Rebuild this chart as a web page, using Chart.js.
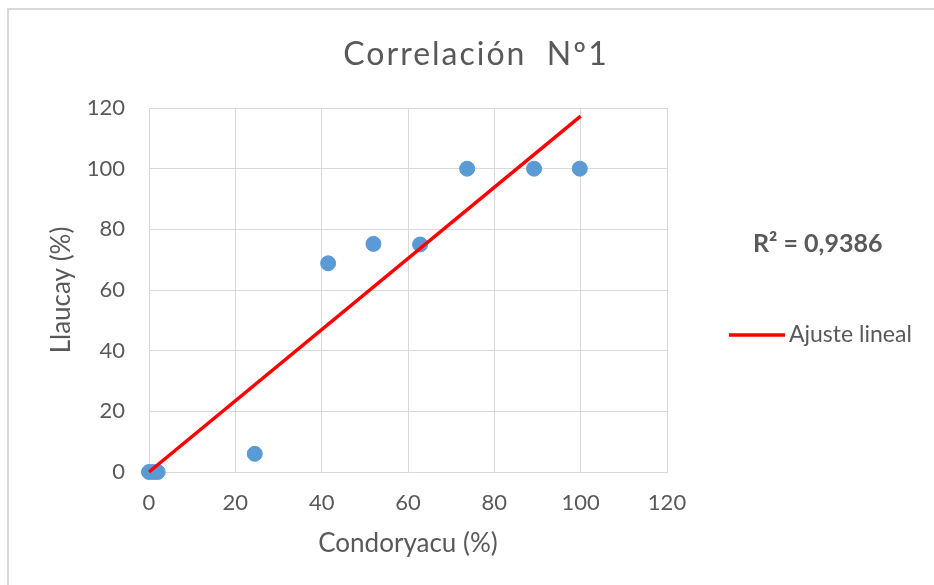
<!DOCTYPE html>
<html>
<head>
<meta charset="utf-8">
<script src="https://cdn.jsdelivr.net/npm/chart.js@4/dist/chart.umd.min.js"></script>
<style>
html,body{margin:0;padding:0;background:#fff;}
#wrap{width:934px;height:585px;position:relative;}
</style>
</head>
<body>
<div id="wrap"><canvas id="c" width="934" height="585"></canvas></div>
<script>
// Data
const condoryacu = [0, 1, 2, 24.5, 41.5, 52, 62.8, 73.7, 89.2, 99.8];
const llaucay    = [0, 0, 0, 6, 68.8, 75.2, 75, 100, 100, 100];
const trendX = [0, 100];
const trendY = [0, 117.3];
const xTicks = [0, 20, 40, 60, 80, 100, 120];
const yTicks = [0, 20, 40, 60, 80, 100, 120];
const chartTitle = 'Correlación  Nº1';
const xTitle = 'Condoryacu (%)';
const yTitle = 'Llaucay (%)';
const legendLabel = 'Ajuste lineal';
const r2Label = 'R² = 0,9386';

const FONT = 'Lato, "Open Sans", sans-serif';
const TXT = '#595959';
const GRID = '#d9d9d9';

const points = condoryacu.map((x, i) => ({x: x, y: llaucay[i]}));
const trend = trendX.map((x, i) => ({x: x, y: trendY[i]}));

const extras = {
  id: 'extras',
  beforeDraw(chart) {
    const ctx = chart.ctx;
    ctx.save();
    ctx.fillStyle = '#fff';
    ctx.fillRect(0, 0, chart.width, chart.height);
    ctx.strokeStyle = GRID;
    ctx.lineWidth = 2;
    ctx.strokeRect(8, 9, 1000, 1000);
    ctx.restore();
  },
  afterDraw(chart) {
    const ctx = chart.ctx;
    ctx.save();
    ctx.fillStyle = TXT;
    ctx.textBaseline = 'middle';
    // title
    ctx.textAlign = 'center';
    ctx.font = '32px ' + FONT;
    ctx.letterSpacing = '2px';
    ctx.fillText(chartTitle, 476, 55);
    ctx.letterSpacing = '0px';
    // R2
    ctx.textAlign = 'left';
    ctx.font = 'bold 25px ' + FONT;
    ctx.fillText(r2Label, 753, 244);
    // legend
    ctx.strokeStyle = '#ff0000';
    ctx.lineWidth = 3.5;
    ctx.beginPath();
    ctx.moveTo(729, 335);
    ctx.lineTo(785, 335);
    ctx.stroke();
    ctx.font = '23px ' + FONT;
    ctx.fillText(legendLabel, 789, 335);
    ctx.restore();
  }
};

new Chart(document.getElementById('c'), {
  type: 'scatter',
  data: {
    datasets: [
      {
        label: 'Datos',
        data: points,
        backgroundColor: '#5b9bd5',
        borderColor: '#5b9bd5',
        pointRadius: 7.5,
        pointHoverRadius: 7.5,
        clip: false,
        order: 2
      },
      {
        label: legendLabel,
        type: 'line',
        data: trend,
        showLine: true,
        borderColor: '#ff0000',
        borderWidth: 3.5,
        pointRadius: 0,
        fill: false,
        clip: false,
        order: 1
      }
    ]
  },
  options: {
    responsive: false,
    animation: false,
    layout: {padding: {left: 0, top: 108, right: 267, bottom: 0}},
    plugins: {
      legend: {display: false},
      tooltip: {enabled: false},
      title: {display: false}
    },
    scales: {
      x: {
        type: 'linear',
        min: 0, max: 120,
        afterBuildTicks(s) { s.ticks = xTicks.map(v => ({value: v})); },
        afterFit(s) { s.height = 113; },
        grid: {color: GRID, lineWidth: 1, drawTicks: false},
        border: {color: GRID},
        ticks: {color: TXT, font: {family: FONT, size: 22}, padding: 18, maxRotation: 0},
        title: {display: true, text: xTitle, color: TXT, font: {family: FONT, size: 26}, padding: {top: 0, bottom: 26}}
      },
      y: {
        type: 'linear',
        min: 0, max: 120,
        afterBuildTicks(s) { s.ticks = yTicks.map(v => ({value: v})); },
        afterFit(s) { s.width = 149; },
        grid: {color: GRID, lineWidth: 1, drawTicks: false},
        border: {color: GRID},
        ticks: {color: TXT, font: {family: FONT, size: 22}, padding: 24},
        title: {display: true, text: yTitle, color: TXT, font: {family: FONT, size: 26}, padding: {top: 46, bottom: 0}}
      }
    }
  },
  plugins: [extras]
});
</script>
</body>
</html>
